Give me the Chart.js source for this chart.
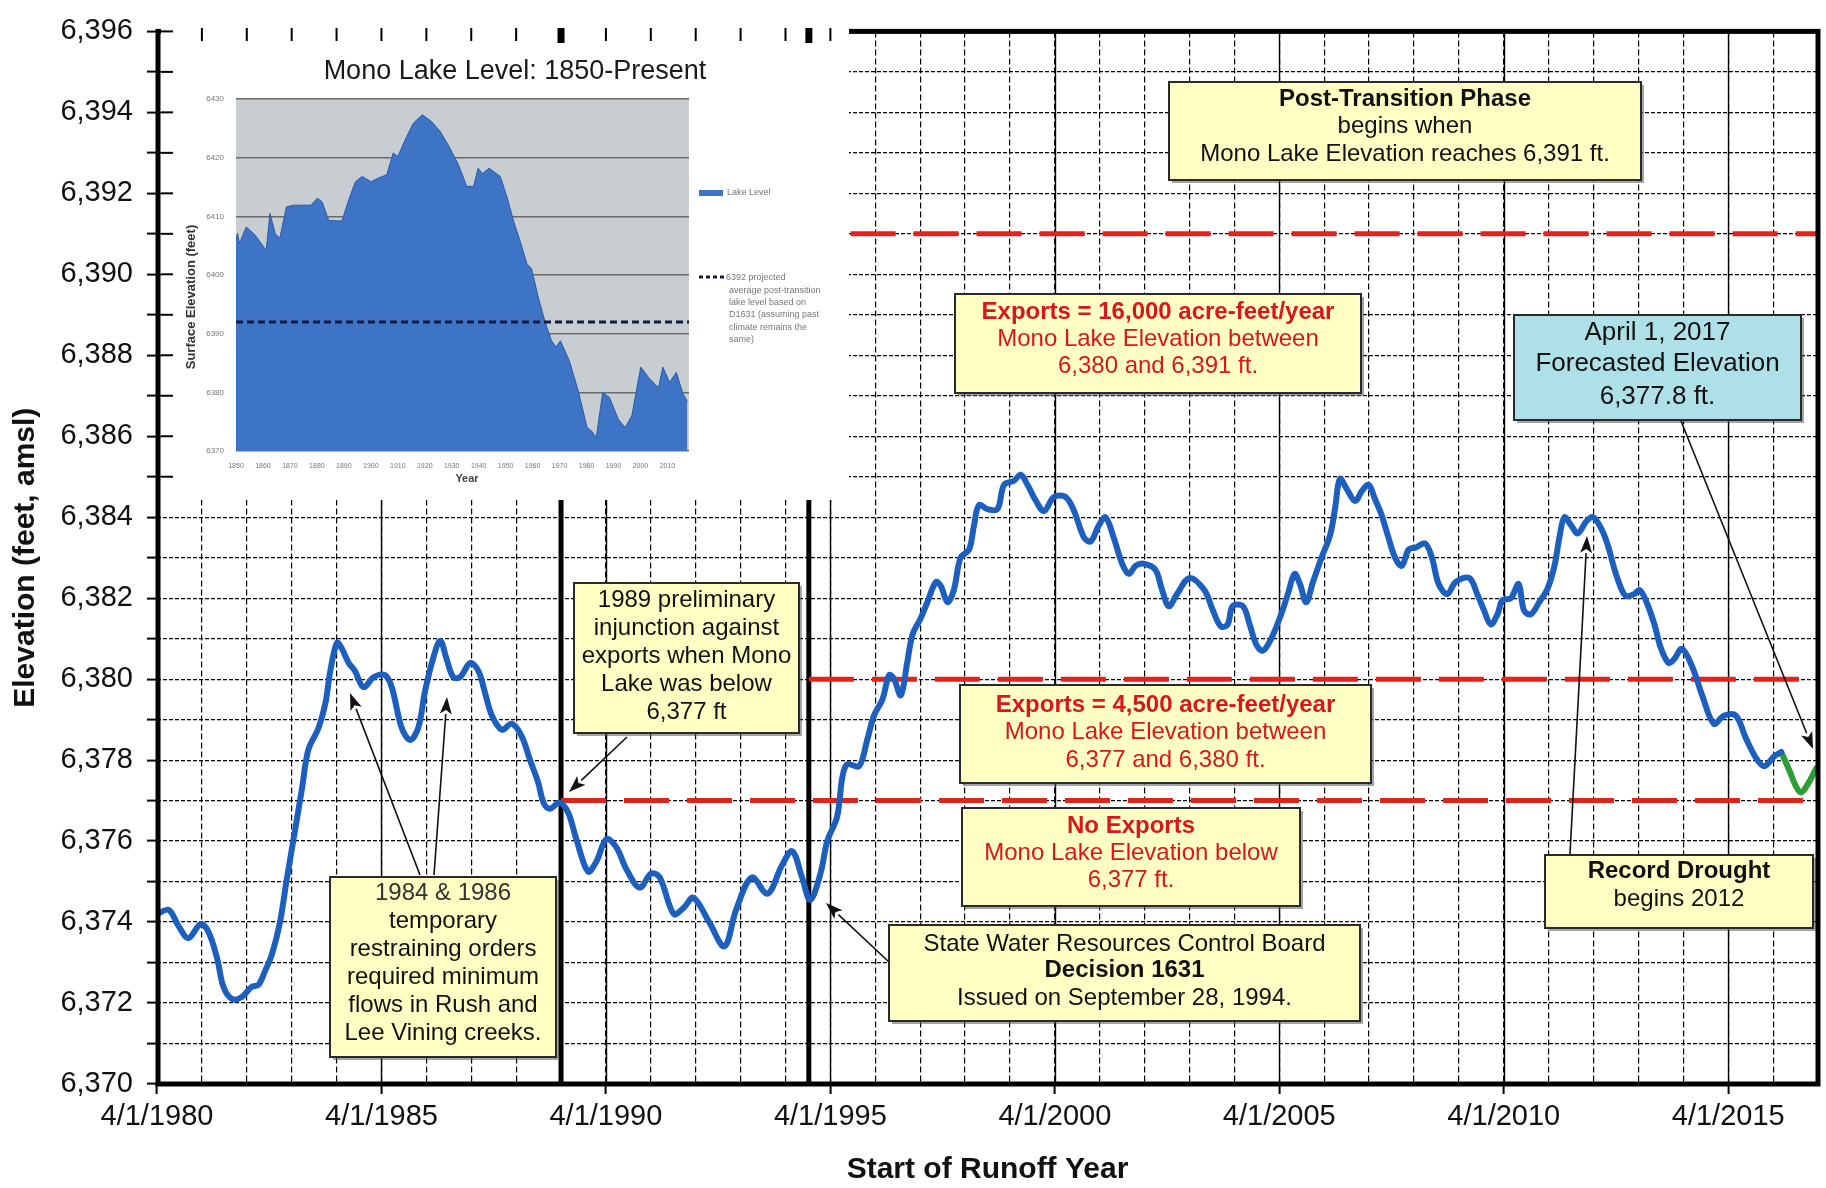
<!DOCTYPE html>
<html><head><meta charset="utf-8">
<script src="https://cdn.jsdelivr.net/npm/chart.js@4.4.1/dist/chart.umd.min.js"></script>
<style>
html,body{margin:0;padding:0;background:#fff;}
#wrap{position:relative;width:1826px;height:1188px;overflow:hidden;}
#main{position:absolute;left:0;top:0;}
#insetBox{position:absolute;left:161px;top:28px;width:688px;height:472px;background:#fff;}
#inset{position:absolute;left:0;top:0;}
</style></head><body>
<div id="wrap"><canvas id="main" width="1826" height="1188"></canvas>
<div id="insetBox"><canvas id="inset" width="688" height="472"></canvas></div></div>
<script>
// ---------------- DATA ----------------
const runoffYear = [1980.25,1980.51,1980.73,1980.95,1981.22,1981.40,1981.59,1981.73,1981.92,1982.14,1982.36,1982.51,1982.66,1982.81,1982.99,1983.14,1983.33,1983.48,1983.62,1983.85,1984.00,1984.11,1984.26,1984.37,1984.52,1984.66,1984.85,1985.08,1985.33,1985.48,1985.70,1985.89,1986.07,1986.22,1986.41,1986.56,1986.70,1986.85,1987.00,1987.23,1987.41,1987.56,1987.71,1987.93,1988.15,1988.37,1988.56,1988.74,1988.86,1989.00,1989.22,1989.41,1989.59,1989.85,1990.04,1990.26,1990.48,1990.71,1991.00,1991.26,1991.45,1991.76,1991.98,1992.20,1992.55,1992.89,1993.15,1993.50,1993.85,1994.17,1994.40,1994.62,1994.80,1995.03,1995.18,1995.40,1995.52,1995.63,1995.89,1996.07,1996.22,1996.41,1996.56,1996.67,1996.82,1996.96,1997.08,1997.26,1997.41,1997.60,1997.71,1997.86,1998.00,1998.15,1998.34,1998.45,1998.56,1998.75,1998.97,1999.12,1999.34,1999.49,1999.64,1999.83,2000.01,2000.23,2000.49,2000.68,2000.90,2001.05,2001.23,2001.38,2001.56,2001.75,2001.90,2002.05,2002.23,2002.49,2002.64,2002.79,2002.97,2003.25,2003.58,2003.77,2003.95,2004.10,2004.21,2004.44,2004.59,2004.74,2004.88,2005.07,2005.29,2005.44,2005.59,2005.71,2005.85,2006.00,2006.19,2006.38,2006.49,2006.60,2006.75,2006.94,2007.09,2007.24,2007.38,2007.53,2007.68,2007.83,2007.98,2008.13,2008.28,2008.50,2008.65,2008.80,2008.99,2009.18,2009.48,2009.66,2009.81,2009.96,2010.11,2010.22,2010.41,2010.58,2010.70,2010.85,2011.04,2011.23,2011.38,2011.49,2011.60,2011.75,2011.90,2012.09,2012.24,2012.43,2012.57,2012.72,2012.88,2012.98,2013.15,2013.28,2013.45,2013.62,2013.74,2013.92,2014.05,2014.22,2014.45,2014.67,2014.93,2015.16,2015.42,2015.64,2015.87,2016.05,2016.28,2016.43];
const elevation = [6374.2,6374.3,6373.9,6373.6,6373.95,6373.75,6373.1,6372.4,6372.1,6372.15,6372.4,6372.45,6372.8,6373.2,6374.0,6375.05,6376.3,6377.3,6378.25,6378.8,6379.4,6380.2,6380.9,6380.75,6380.4,6380.2,6379.8,6380.05,6380.1,6379.8,6378.8,6378.5,6378.8,6379.7,6380.55,6380.95,6380.5,6380.05,6380.05,6380.4,6380.2,6379.65,6379.1,6378.75,6378.9,6378.6,6378.0,6377.45,6376.95,6376.8,6376.95,6376.7,6376.05,6375.25,6375.5,6376.05,6375.85,6375.3,6374.85,6375.2,6375.1,6374.2,6374.35,6374.6,6374.0,6373.4,6374.3,6375.1,6374.7,6375.4,6375.75,6375.1,6374.55,6375.2,6376.0,6376.6,6377.6,6377.9,6377.85,6378.5,6379.1,6379.5,6380.1,6380.0,6379.6,6380.4,6381.1,6381.5,6381.9,6382.4,6382.3,6381.9,6382.2,6383.0,6383.2,6383.8,6384.3,6384.2,6384.2,6384.8,6384.9,6385.05,6384.8,6384.4,6384.15,6384.5,6384.5,6384.15,6383.5,6383.4,6383.8,6384.0,6383.5,6382.85,6382.6,6382.8,6382.85,6382.7,6382.2,6381.8,6382.1,6382.5,6382.2,6381.7,6381.3,6381.35,6381.8,6381.8,6381.35,6380.85,6380.7,6381.0,6381.6,6382.1,6382.6,6382.35,6381.9,6382.4,6383.0,6383.55,6384.2,6384.95,6384.7,6384.4,6384.65,6384.8,6384.45,6384.05,6383.5,6383.0,6382.8,6383.2,6383.25,6383.35,6383.0,6382.35,6382.1,6382.4,6382.5,6382.1,6381.7,6381.35,6381.6,6381.95,6382.0,6382.35,6381.7,6381.6,6381.9,6382.25,6382.8,6383.5,6384.0,6383.8,6383.6,6383.9,6384.0,6383.7,6383.3,6382.7,6382.2,6382.05,6382.1,6382.2,6381.85,6381.3,6380.8,6380.4,6380.5,6380.75,6380.3,6379.6,6378.9,6379.1,6379.1,6378.55,6378.05,6377.85,6378.1,6378.2];
const forecastYear = [2016.43,2016.61,2016.76,2016.87,2017.02,2017.21];
const forecastElev = [6378.2,6377.75,6377.35,6377.2,6377.4,6377.8];
const thresholdLevel = [6391, 6380, 6377];
const thresholdFrom = [1995.7, 1994.77, 1989.25];
const eventYear = [1989.25, 1994.77];
const labeledYears = [1980,1985,1990,1995,2000,2005,2010,2015];
const xMin = 1980.25, xMax = 2017.25, yMin = 6370, yMax = 6396;

const insetYear = [1850.0,1850.5,1851.3,1853.8,1857.1,1861.2,1862.6,1864.5,1866.2,1868.7,1871.2,1877.8,1880.2,1881.9,1884.4,1889.3,1891.8,1894.3,1896.8,1900.1,1902.6,1905.9,1908.3,1910.0,1913.3,1915.8,1919.1,1922.4,1925.7,1929.0,1932.3,1935.6,1938.1,1939.8,1941.4,1943.9,1948.0,1950.5,1953.0,1955.5,1957.9,1959.6,1962.1,1964.5,1967.0,1968.7,1970.3,1973.6,1976.9,1980.2,1981.9,1983.6,1986.0,1988.5,1991.8,1994.3,1996.8,2000.1,2003.4,2006.7,2008.3,2010.8,2013.3,2015.8,2017.4];
const insetLevel = [6406.0,6407.1,6405.4,6408.2,6406.8,6404.2,6410.5,6407.1,6406.2,6411.6,6411.9,6411.9,6413.1,6412.5,6409.3,6409.2,6412.8,6415.9,6416.8,6415.9,6416.5,6417.1,6420.8,6420.2,6423.6,6425.9,6427.3,6426.2,6424.5,6421.9,6419.0,6415.1,6415.1,6418.2,6417.3,6418.2,6416.8,6413.3,6409.1,6405.6,6401.9,6401.1,6396.2,6392.2,6388.8,6387.7,6388.8,6385.4,6380.3,6374.0,6373.4,6372.3,6380.0,6379.1,6375.4,6374.0,6376.0,6384.3,6382.3,6380.8,6384.3,6381.7,6383.4,6379.7,6378.5];
const insetDecades = [1850,1860,1870,1880,1890,1900,1910,1920,1930,1940,1950,1960,1970,1980,1990,2000,2010];
const projectedLevel = 6392;

// ---------------- STYLE / LAYOUT ----------------
const FONT = "'Liberation Sans', Arial, sans-serif";
Chart.defaults.font.family = FONT;
const RED = '#d8161c';
const BLACK = '#111';
const BOX = '#ffffc4';

const tickYears = [];
for (let y = Math.round(xMin - 0.25); y <= Math.round(xMax - 0.25); y++) tickYears.push(y + 0.25);
const isLabeled = v => labeledYears.includes(Math.round(v - 0.25)) && Math.abs((v - 0.25) - Math.round(v - 0.25)) < 1e-6;
const fmt = v => Number(v).toLocaleString('en-US');

const callouts = [
  {x:1169,y:82,w:472,h:98,lines:[
    {t:'Post-Transition Phase',y:99,b:true},{t:'begins when',y:126},{t:'Mono Lake Elevation reaches 6,391 ft.',y:154}]},
  {x:955,y:294,w:406,h:99,lines:[
    {t:'Exports = 16,000 acre-feet/year',y:312,b:true,c:RED},{t:'Mono Lake Elevation between',y:339,c:RED},{t:'6,380 and 6,391 ft.',y:366,c:RED}]},
  {x:1514,y:315,w:287,h:105,fill:'#aee0e8',size:26,lines:[
    {t:'April 1, 2017',y:333},{t:'Forecasted Elevation',y:364},{t:'6,377.8 ft.',y:397}]},
  {x:960,y:685,w:411,h:98,lines:[
    {t:'Exports = 4,500 acre-feet/year',y:705,b:true,c:RED},{t:'Mono Lake Elevation between',y:732,c:RED},{t:'6,377 and 6,380 ft.',y:760,c:RED}]},
  {x:962,y:808,w:338,h:98,lines:[
    {t:'No Exports',y:826,b:true,c:RED},{t:'Mono Lake Elevation below',y:853,c:RED},{t:'6,377 ft.',y:880,c:RED}]},
  {x:889,y:925,w:471,h:96,lines:[
    {t:'State Water Resources Control Board',y:944},{t:'Decision 1631',y:970,b:true},{t:'Issued on September 28, 1994.',y:998}]},
  {x:1545,y:855,w:268,h:73,lines:[
    {t:'Record Drought',y:871,b:true},{t:'begins 2012',y:899}]},
  {x:330,y:877,w:226,h:180,lines:[
    {t:'1984 & 1986',y:893,c:'#333'},{t:'temporary',y:921},{t:'restraining orders',y:949},{t:'required minimum',y:977},{t:'flows in Rush and',y:1005},{t:'Lee Vining creeks.',y:1033}]},
  {x:574,y:583,w:225,h:150,lines:[
    {t:'1989 preliminary',y:600},{t:'injunction against',y:628},{t:'exports when Mono',y:656},{t:'Lake was below',y:684},{t:'6,377 ft',y:712}]}
];
const arrows = [
  [420,875,350,693],[434,875,447,697],[627,737,569,792],[889,962,826,903],[1570,854,1587,536],[1681,421,1813,749]
];

function drawArrow(ctx, x1, y1, x2, y2) {
  ctx.save();
  ctx.strokeStyle = '#111'; ctx.fillStyle = '#111'; ctx.lineWidth = 1.6;
  const ang = Math.atan2(y2 - y1, x2 - x1), L = 17, W = 6;
  const bx = x2 - L * Math.cos(ang), by = y2 - L * Math.sin(ang);
  ctx.beginPath(); ctx.moveTo(x1, y1); ctx.lineTo(bx, by); ctx.stroke();
  ctx.beginPath(); ctx.moveTo(x2, y2);
  ctx.lineTo(bx + W * Math.sin(ang), by - W * Math.cos(ang));
  ctx.lineTo(bx + 4*Math.cos(ang), by + 4*Math.sin(ang));
  ctx.lineTo(bx - W * Math.sin(ang), by + W * Math.cos(ang));
  ctx.closePath(); ctx.fill();
  ctx.restore();
}

const decor = {
  id: 'decor',
  beforeDatasetsDraw(chart) {
    const {ctx, chartArea: a, scales: {x}} = chart;
    ctx.save();
    ctx.strokeStyle = '#000'; ctx.lineWidth = 1.4;
    labeledYears.forEach(y => {
      const px = Math.round(x.getPixelForValue(y + 0.25)) + 0.5;
      ctx.beginPath(); ctx.moveTo(px, a.top); ctx.lineTo(px, a.bottom); ctx.stroke();
    });
    ctx.restore();
  },
  afterDatasetsDraw(chart) {
    const ctx = chart.ctx;
    ctx.save();
    callouts.forEach(b => {
      ctx.fillStyle = 'rgba(90,90,90,0.55)';
      ctx.fillRect(b.x + 3, b.y + 3, b.w, b.h);
      ctx.fillStyle = b.fill || BOX;
      ctx.fillRect(b.x, b.y, b.w, b.h);
      ctx.strokeStyle = '#2a2a2a'; ctx.lineWidth = 2;
      ctx.strokeRect(b.x, b.y, b.w, b.h);
      ctx.textAlign = 'center'; ctx.textBaseline = 'middle';
      b.lines.forEach(l => {
        ctx.font = (l.b ? 'bold ' : '') + (b.size || 24) + 'px ' + FONT;
        ctx.fillStyle = l.c || BLACK;
        ctx.fillText(l.t, b.x + b.w / 2, l.y);
      });
    });
    arrows.forEach(a => drawArrow(ctx, a[0], a[1], a[2], a[3]));
    ctx.restore();
  },
  afterDraw(chart) {
    const {ctx, chartArea: a} = chart;
    ctx.save();
    ctx.strokeStyle = '#000'; ctx.lineWidth = 5;
    ctx.strokeRect(a.left + 1, a.top, a.right - a.left - 1, a.bottom - a.top);
    ctx.restore();
  }
};

const datasets = [
  {data: runoffYear.map((x, i) => ({x, y: elevation[i]})), borderColor:'#1d5fbe', borderWidth:6, pointRadius:0, tension:0.35, borderCapStyle:'round', borderJoinStyle:'round'},
  {data: forecastYear.map((x, i) => ({x, y: forecastElev[i]})), borderColor:'#2e9e35', borderWidth:6, pointRadius:0, tension:0.35, borderCapStyle:'round'}
];
thresholdLevel.forEach((lv, i) => datasets.push({
  data:[{x:thresholdFrom[i], y:lv},{x:xMax, y:lv}], borderColor:'#e3221c', borderWidth:5, borderDash:[45,18], pointRadius:0
}));
eventYear.forEach(ev => datasets.push({
  data:[{x:ev, y:yMin},{x:ev, y:yMax}], borderColor:'#000', borderWidth:5, pointRadius:0
}));

const mainChart = new Chart(document.getElementById('main'), {
  type: 'line',
  data: {datasets},
  options: {
    responsive:false, animation:false, devicePixelRatio:1,
    layout:{padding:{top:25, right:8, left:0, bottom:0}},
    plugins:{legend:{display:false}, tooltip:{enabled:false}},
    scales:{
      x:{type:'linear', min:xMin, max:xMax,
        afterBuildTicks: s => { s.ticks = tickYears.map(v => ({value:v})); },
        afterFit: s => { s.height = 104; },
        grid:{color:'#000', lineWidth:1.2, tickLength:10, tickWidth:2,
          tickColor: c => (c.tick && isLabeled(c.tick.value)) ? '#000' : 'rgba(0,0,0,0)'},
        border:{display:false, dash:[6,3]},
        ticks:{autoSkip:false, maxRotation:0, minRotation:0, padding:6, color:BLACK, font:{size:29},
          callback: v => isLabeled(v) ? '4/1/' + Math.round(v - 0.25) : ''},
        title:{display:true, text:'Start of Runoff Year', color:BLACK, font:{size:30, weight:'bold'}, padding:{top:0, bottom:0}}
      },
      y:{min:yMin, max:yMax,
        afterFit: s => { s.width = 157; },
        ticks:{stepSize:1, autoSkip:false, padding:14, color:BLACK, font:{size:29},
          callback: v => (Math.round(v) % 2 === 0) ? fmt(v) : ''},
        grid:{color:'#000', lineWidth:1.2, tickLength:10, tickWidth:2, tickColor:'#000'},
        border:{display:false, dash:[4,2]},
        title:{display:true, text:'Elevation (feet, amsl)', color:BLACK, font:{size:30, weight:'bold'}, padding:{top:8, bottom:0}}
      }
    }
  },
  plugins:[decor]
});

// ---------------- INSET ----------------
const OX = 161, OY = 28;
const insetDeco = {
  id:'insetDeco',
  beforeDraw(c) {
    const {ctx, chartArea:a} = c;
    ctx.save(); ctx.fillStyle = '#c8cdd1';
    ctx.fillRect(a.left, a.top, a.right - a.left, a.bottom - a.top);
    ctx.restore();
  },
  afterDraw(c) {
    const ctx = c.ctx;
    ctx.save();
    ctx.textAlign = 'center'; ctx.textBaseline = 'middle';
    ctx.fillStyle = '#1a1a1a'; ctx.font = '27px ' + FONT;
    ctx.fillText('Mono Lake Level: 1850-Present', 354, 44);
    ctx.save(); ctx.translate(30, 269); ctx.rotate(-Math.PI / 2);
    ctx.font = 'bold 13px ' + FONT; ctx.fillStyle = '#333';
    ctx.fillText('Surface Elevation (feet)', 0, 0); ctx.restore();
    ctx.font = 'bold 11px ' + FONT; ctx.fillStyle = '#444';
    ctx.fillText('Year', 306, 451);
    // legend
    ctx.fillStyle = '#3d74c6'; ctx.fillRect(538, 162, 24, 6);
    ctx.textAlign = 'left'; ctx.font = '9px ' + FONT; ctx.fillStyle = '#777';
    ctx.fillText('Lake Level', 566, 165);
    ctx.strokeStyle = '#151a40'; ctx.lineWidth = 3; ctx.setLineDash([4,3]);
    ctx.beginPath(); ctx.moveTo(538, 249); ctx.lineTo(563, 249); ctx.stroke(); ctx.setLineDash([]);
    const leg = ['6392 projected','average post-transition','lake level based on','D1631 (assuming past','climate remains the','same)'];
    leg.forEach((t, i) => ctx.fillText(t, i === 0 ? 565 : 568, 250 + i * 12.3));
    // inward ticks of main axes that show over the inset
    const mx = mainChart.scales.x, my = mainChart.scales.y;
    ctx.strokeStyle = '#000'; ctx.lineWidth = 2;
    tickYears.forEach(v => {
      const px = mx.getPixelForValue(v) - OX;
      if (px > 2 && px < 686) { ctx.beginPath(); ctx.moveTo(px, 0); ctx.lineTo(px, 13); ctx.stroke(); }
    });
    for (let v = yMin; v <= yMax; v++) {
      const py = my.getPixelForValue(v) - OY;
      if (py > 2 && py < 470) { ctx.beginPath(); ctx.moveTo(0, py); ctx.lineTo(12, py); ctx.stroke(); }
    }
    ctx.lineWidth = 7;
    eventYear.forEach(ev => {
      const px = mx.getPixelForValue(ev) - OX;
      ctx.beginPath(); ctx.moveTo(px, 0); ctx.lineTo(px, 15); ctx.stroke();
    });
    ctx.restore();
  }
};

new Chart(document.getElementById('inset'), {
  type:'line',
  data:{datasets:[
    {data:[{x:1850, y:projectedLevel},{x:2018, y:projectedLevel}], borderColor:'#151a40', borderDash:[7,4], borderWidth:3, pointRadius:0, fill:false},
    {data: insetYear.map((x, i) => ({x, y: insetLevel[i]})), fill:'start', backgroundColor:'#3d74c6', borderColor:'#2b5aa6', borderWidth:1, pointRadius:0, tension:0}
  ]},
  options:{
    responsive:false, animation:false, devicePixelRatio:1,
    layout:{padding:{top:71, right:160, left:0, bottom:0}},
    plugins:{legend:{display:false}, tooltip:{enabled:false}},
    scales:{
      x:{type:'linear', min:1850, max:2018,
        afterBuildTicks: s => { s.ticks = insetDecades.map(v => ({value:v})); },
        afterFit: s => { s.height = 49; },
        grid:{display:false}, border:{display:false},
        ticks:{autoSkip:false, maxRotation:0, minRotation:0, padding:3, color:'#777', font:{size:7}, callback: v => String(v)}},
      y:{min:6370, max:6430,
        afterFit: s => { s.width = 75; },
        ticks:{stepSize:10, padding:12, color:'#777', font:{size:8}, callback: v => String(v)},
        grid:{color:'#6a6a6a', lineWidth:1.5, drawTicks:false}, border:{display:false}}
    }
  },
  plugins:[insetDeco]
});
</script></body></html>
